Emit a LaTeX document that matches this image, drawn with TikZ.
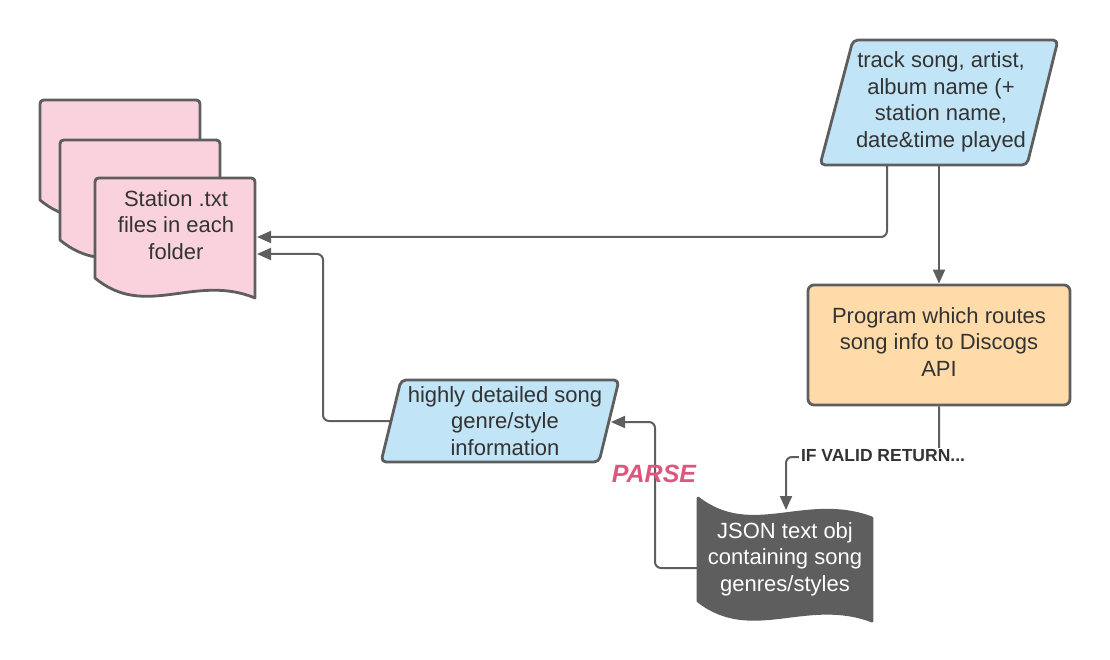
\documentclass[tikz,border=0pt]{standalone}
\usepackage{fontspec}
\setmainfont{Liberation Sans}
\usetikzlibrary{arrows.meta}
\definecolor{edge}{HTML}{5E5E5E}
\definecolor{pinkf}{HTML}{F9D2DE}
\definecolor{bluef}{HTML}{C1E4F7}
\definecolor{orangef}{HTML}{FFDBA9}
\definecolor{txt}{HTML}{333333}
\definecolor{parsec}{HTML}{DE567E}
\newcommand\docpath[2]{%
  (#1,#2+100) -- (#1,#2+8) .. controls (#1,#2) .. (#1+8,#2) -- (#1+152,#2)
  .. controls (#1+160,#2) .. (#1+160,#2+8) -- (#1+160,#2+120)
  .. controls (#1+100,#2+95) and (#1+50,#2+142) .. (#1,#2+100) -- cycle}
\begin{document}
\begin{tikzpicture}[x=1pt,y=-1pt,
  shapeline/.style={draw=edge,line width=2.8pt,line join=round},
  conn/.style={draw=edge,line width=2pt,rounded corners=6pt,-{Triangle[length=14pt,width=12pt]}},
  lbl/.style={text=txt,font=\fontsize{22}{26.5}\selectfont,align=center,inner sep=0pt},
]
\useasboundingbox (0,0) rectangle (1110,660);

% stacked documents
\path[shapeline,fill=pinkf] \docpath{40}{100};
\path[shapeline,fill=pinkf] \docpath{60}{140};
\path[shapeline,fill=pinkf] \docpath{95}{178};
\node[lbl] (stations) at (176,225) {Station .txt\\files in each\\folder};
\coordinate (d3a) at (257,237);
\coordinate (d3b) at (257,254);

% top-right parallelogram
\path[shapeline,fill=bluef,rounded corners=5pt] (820,165) -- (853,40) -- (1058,40) -- (1027,165) -- cycle;
\node[lbl] (track) at (941,102) {track song, artist,\\album name (+\\station name,\\date\&time played};
\coordinate (p1a) at (887,165);
\coordinate (p1b) at (939,165);

% program box
\node[shapeline,fill=orangef,rounded corners=6pt,minimum width=262pt,minimum height=120pt,inner sep=0pt]
      (prog) at (939,345) {};
\node[lbl] (progtext) at (939,342) {Program which routes\\song info to Discogs\\API};

% middle parallelogram
\path[shapeline,fill=bluef,rounded corners=5pt] (381,462) -- (401,380) -- (619,380) -- (599,462) -- cycle;
\node[lbl] (genre) at (505,421) {highly detailed song\\genre/style\\information};
\coordinate (p2r) at (611,422);
\coordinate (p2l) at (391,421);

% JSON tape
\path[shapeline,fill=edge] (698,498) .. controls (752,540) and (806,493) .. (872,518)
   -- (872,621) .. controls (806,596) and (752,643) .. (698,601) -- cycle;
\node[lbl,text=white] (json) at (785,559) {JSON text obj\\containing song\\genres/styles};
\coordinate (jtop) at (786,510);
\coordinate (jl) at (698,568);

% connectors
\coordinate (k1) at (323,254);
\coordinate (k2) at (655,422);
\coordinate (k3) at (939,457);
\draw[conn] (p1a) |- (d3a);
\draw[conn] (p1b) -- (prog.north);
\draw[conn] (prog.south) -- (k3) -| (jtop);
\draw[conn] (jl) -| (k2) -- (p2r);
\draw[conn] (p2l) -| (k1) -- (d3b);

\node[fill=white,inner sep=2pt,text=txt,font=\fontsize{17.5}{20}\selectfont\bfseries] (ifvalid) at (883,456) {IF VALID RETURN...};
\node[text=parsec,font=\fontsize{25}{28}\selectfont\bfseries\itshape,inner sep=0pt] (parse) at (654,474) {PARSE};
\end{tikzpicture}
\end{document}
